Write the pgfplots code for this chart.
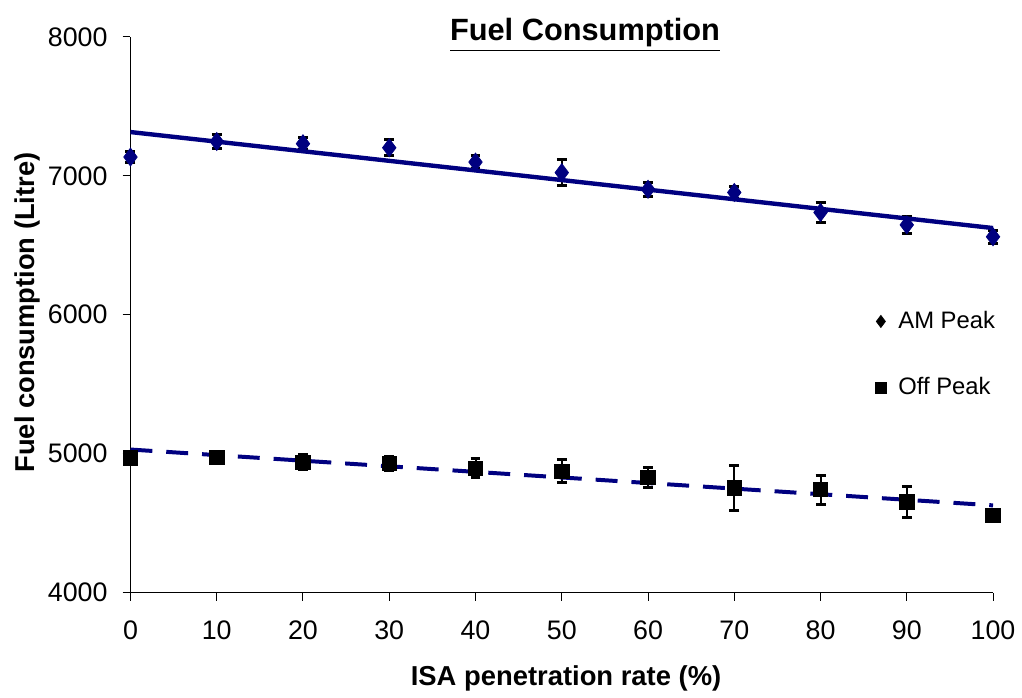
\documentclass[border=0pt]{standalone}
\usepackage{pgfplots}
\pgfplotsset{compat=1.18}
\usepackage{fontspec}
\setmainfont{Liberation Sans}
\definecolor{navyb}{RGB}{0,0,128}

\pgfplotstableread{
x y e
0 7135 42
10 7247 48
20 7231 43
30 7202 56
40 7099 45
50 7023 92
60 6903 50
70 6880 43
80 6736 70
90 6647 63
100 6561 45
}\amdata

\pgfplotstableread{
x y e
0 4970 20
10 4975 20
20 4939 55
30 4932 50
40 4896 70
50 4874 84
60 4829 74
70 4753 165
80 4741 105
90 4652 111
100 4554 20
}\offdata

\begin{document}
\begin{tikzpicture}
\begin{axis}[
  scale only axis, width=433bp, height=279bp,
  xmin=0, xmax=100, ymin=4000, ymax=8000,
  xtick={0,10,...,100}, ytick={4000,5000,6000,7000,8000},
  axis x line*=bottom, axis y line*=left,
  tick align=outside, major tick length=4bp,
  tick style={black, line width=0.5bp},
  axis line style={black, line width=0.5bp},
  /pgf/number format/assume math mode=true,
  /pgf/number format/1000 sep={},
  ticklabel style={font=\fontsize{13.5}{16}\selectfont},
  xticklabel style={yshift=-6.5bp},
  yticklabel style={xshift=-4bp},
  xlabel={ISA penetration rate (\%)},
  ylabel={Fuel consumption (Litre)},
  xlabel style={font=\fontsize{13.8}{16}\selectfont\bfseries, at={(axis description cs:0.505,-0.154)}, anchor=center},
  ylabel style={font=\fontsize{13.75}{16}\selectfont\bfseries, at={(axis description cs:-0.119,0.504)}, anchor=center},
  clip=false,
  legend image code/.code={\draw[#1] plot coordinates {(0bp,0bp)};},
  legend style={draw=none, fill=none, inner sep=0pt, outer sep=0pt,
    font=\fontsize{12}{14}\selectfont,
    at={(rel axis cs:0.8635,0.5115)}, anchor=north west, row sep=20bp,
    column sep=4.5bp,
    nodes={inner sep=1.5bp}},
  legend cell align=left,
]
\addlegendimage{black, only marks, mark=diamond*, mark size=3bp}
\addlegendentry{AM Peak}
\addlegendimage{black, only marks, mark=square*, mark size=2.8bp}
\addlegendentry{Off Peak}

\addplot[forget plot, only marks, mark=diamond*, mark size=4.5bp, draw=navyb, fill=navyb,
  mark options={draw=navyb, fill=navyb},
  error bars/.cd, y dir=both, y explicit,
  error bar style={black, line width=1bp},
  error mark options={black, rotate=90, mark size=2.5bp, line width=1.5bp}]
  table[x=x, y=y, y error=e] {\amdata};

\addplot[forget plot, only marks, mark=square*, mark size=3.6bp, draw=black, fill=black,
  mark options={draw=black, fill=black},
  error bars/.cd, y dir=both, y explicit,
  error bar style={black, line width=1bp},
  error mark options={black, rotate=90, mark size=2.5bp, line width=1.5bp}]
  table[x=x, y=y, y error=e] {\offdata};

\addplot[forget plot, navyb, line width=2.2bp] coordinates {(0,7315) (100,6624)};
\addplot[forget plot, navyb, line width=2bp, dash pattern=on 11bp off 7bp] coordinates {(0,5030) (100,4628)};

\node[font=\fontsize{15.5}{18}\selectfont\bfseries, anchor=base] at (rel axis cs:0.527,1) [yshift=-2bp] {\underline{Fuel Consumption}};

\path (rel axis cs:0,0) ++(-65.5bp,-48bp) rectangle ++(511bp,345.5bp);
\end{axis}
\end{tikzpicture}
\end{document}
